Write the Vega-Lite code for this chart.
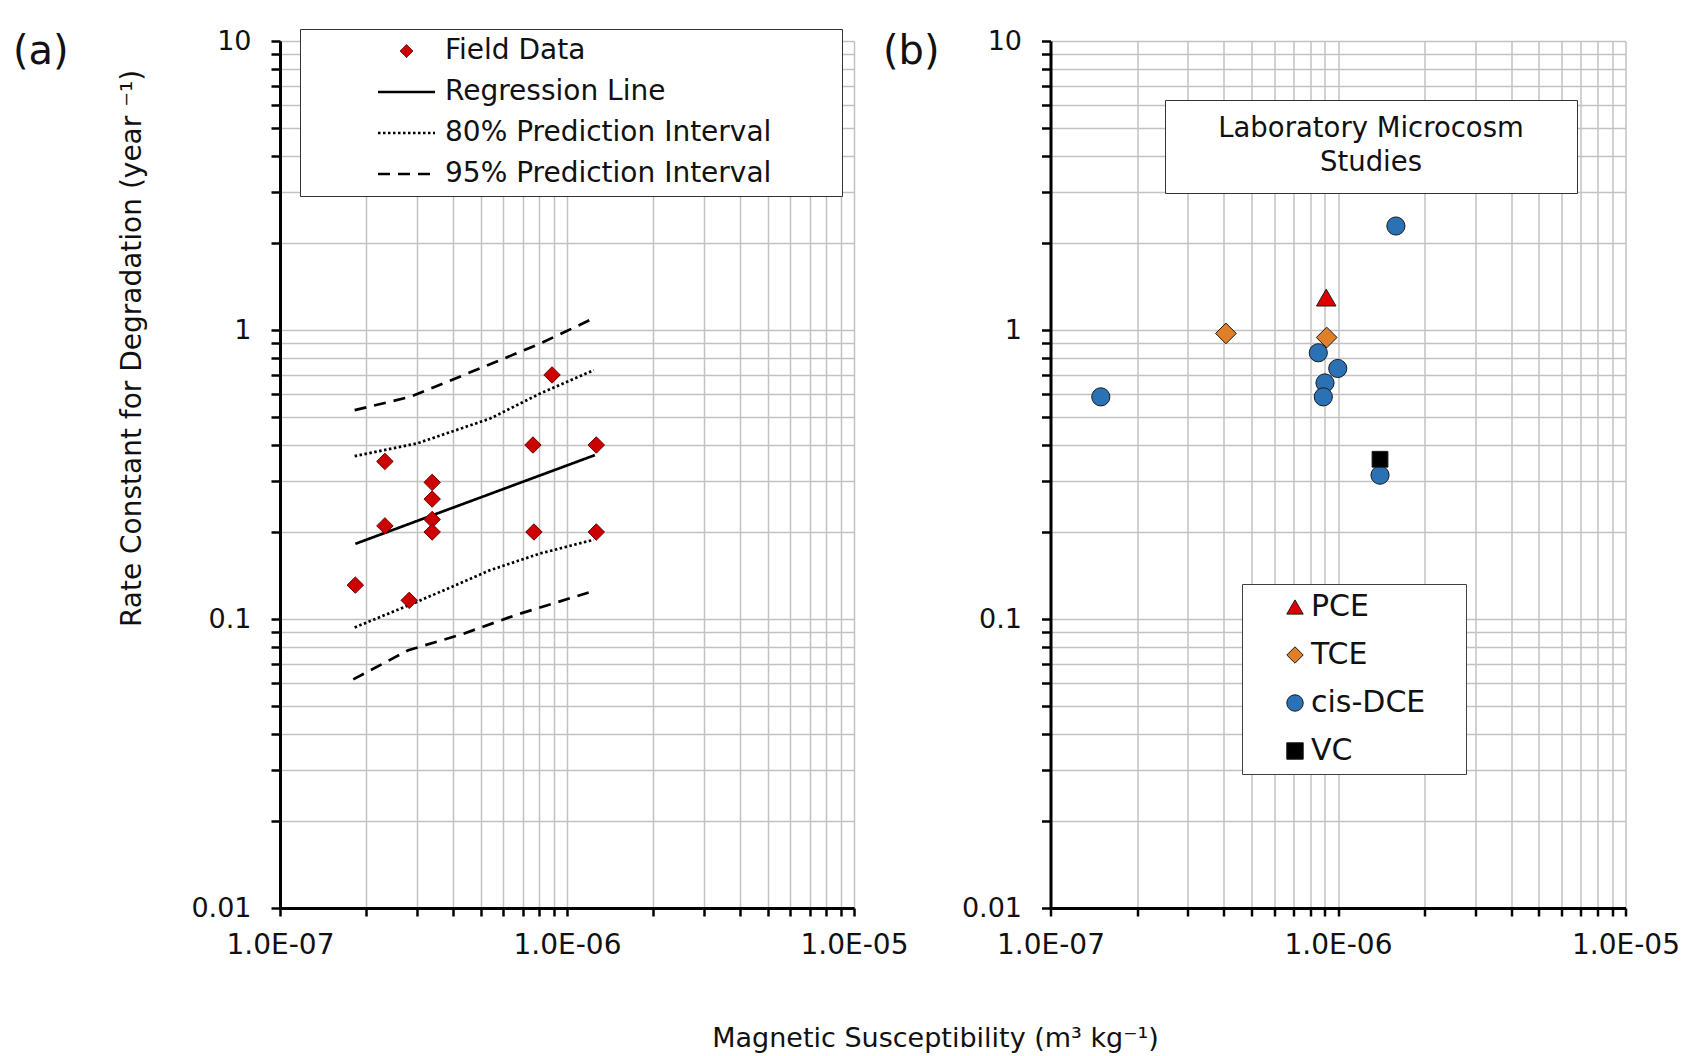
{
  "$schema": "https://vega.github.io/schema/vega-lite/v6.json",
  "autosize": {"type": "none"},
  "padding": {"left": 280, "top": 41, "right": 1405, "bottom": 1015},
  "background": "white",
  "spacing": 196.5,
  "bounds": "flush",
  "config": {
    "view": {"stroke": null},
    "font": "DejaVu Sans",
    "axis": {
      "domainColor": "#000000", "domainWidth": 3,
      "tickColor": "#000000", "tickWidth": 2.5,
      "gridColor": "#c2c2c2", "gridWidth": 1.5,
      "labelFont": "DejaVu Sans", "labelColor": "#111111",
      "labelOverlap": false, "labelFlush": false,
      "titleFont": "DejaVu Sans", "titleFontWeight": "normal", "titleColor": "#111111", "titleFontSize": 28
    },
    "axisX": {"labelFontSize": 28, "labelPadding": 15, "tickSize": 8},
    "axisY": {"labelFontSize": 27, "labelPadding": 20, "tickSize": 9},
    "title": {"font": "DejaVu Sans", "fontWeight": "normal", "fontSize": 40, "color": "#111111"}
  },
  "datasets": {
    "field": [
      {"ms": 1.83e-7, "k": 0.131},
      {"ms": 2.32e-7, "k": 0.351},
      {"ms": 2.32e-7, "k": 0.21},
      {"ms": 2.82e-7, "k": 0.116},
      {"ms": 3.39e-7, "k": 0.297},
      {"ms": 3.39e-7, "k": 0.26},
      {"ms": 3.39e-7, "k": 0.221},
      {"ms": 3.39e-7, "k": 0.2},
      {"ms": 7.61e-7, "k": 0.4},
      {"ms": 7.67e-7, "k": 0.2},
      {"ms": 8.87e-7, "k": 0.699},
      {"ms": 1.265e-6, "k": 0.4},
      {"ms": 1.265e-6, "k": 0.2}
    ],
    "lines": [
      {"series": "Regression Line", "part": "mid", "ms": 1.83e-7, "k": 0.182},
      {"series": "Regression Line", "part": "mid", "ms": 1.25e-6, "k": 0.369},
      {"series": "80% Prediction Interval", "part": "upper", "ms": 1.82e-7, "k": 0.366},
      {"series": "80% Prediction Interval", "part": "upper", "ms": 3.0e-7, "k": 0.405},
      {"series": "80% Prediction Interval", "part": "upper", "ms": 5.4e-7, "k": 0.494},
      {"series": "80% Prediction Interval", "part": "upper", "ms": 8.07e-7, "k": 0.603},
      {"series": "80% Prediction Interval", "part": "upper", "ms": 1.24e-6, "k": 0.726},
      {"series": "80% Prediction Interval", "part": "lower", "ms": 1.82e-7, "k": 0.0935},
      {"series": "80% Prediction Interval", "part": "lower", "ms": 3.0e-7, "k": 0.1146},
      {"series": "80% Prediction Interval", "part": "lower", "ms": 5.4e-7, "k": 0.1476},
      {"series": "80% Prediction Interval", "part": "lower", "ms": 8.07e-7, "k": 0.1686},
      {"series": "80% Prediction Interval", "part": "lower", "ms": 1.24e-6, "k": 0.188},
      {"series": "95% Prediction Interval", "part": "upper", "ms": 1.82e-7, "k": 0.528},
      {"series": "95% Prediction Interval", "part": "upper", "ms": 2.84e-7, "k": 0.587},
      {"series": "95% Prediction Interval", "part": "upper", "ms": 5.12e-7, "k": 0.745},
      {"series": "95% Prediction Interval", "part": "upper", "ms": 8.07e-7, "k": 0.898},
      {"series": "95% Prediction Interval", "part": "upper", "ms": 1.196e-6, "k": 1.08},
      {"series": "95% Prediction Interval", "part": "lower", "ms": 1.8e-7, "k": 0.0618},
      {"series": "95% Prediction Interval", "part": "lower", "ms": 2.8e-7, "k": 0.078},
      {"series": "95% Prediction Interval", "part": "lower", "ms": 4.31e-7, "k": 0.0886},
      {"series": "95% Prediction Interval", "part": "lower", "ms": 6.64e-7, "k": 0.1033},
      {"series": "95% Prediction Interval", "part": "lower", "ms": 1.19e-6, "k": 0.1235}
    ],
    "lab": [
      {"compound": "cis-DCE", "ms": 1.496e-7, "k": 0.587, "study": "Laboratory Microcosm Studies"},
      {"compound": "cis-DCE", "ms": 8.54e-7, "k": 0.834, "study": "Laboratory Microcosm Studies"},
      {"compound": "cis-DCE", "ms": 9.98e-7, "k": 0.736, "study": "Laboratory Microcosm Studies"},
      {"compound": "cis-DCE", "ms": 9.01e-7, "k": 0.656, "study": "Laboratory Microcosm Studies"},
      {"compound": "cis-DCE", "ms": 8.89e-7, "k": 0.587, "study": "Laboratory Microcosm Studies"},
      {"compound": "cis-DCE", "ms": 1.40e-6, "k": 0.3145, "study": "Laboratory Microcosm Studies"},
      {"compound": "cis-DCE", "ms": 1.59e-6, "k": 2.29, "study": "Laboratory Microcosm Studies"},
      {"compound": "TCE", "ms": 4.076e-7, "k": 0.973, "study": "Laboratory Microcosm Studies"},
      {"compound": "TCE", "ms": 9.135e-7, "k": 0.942, "study": "Laboratory Microcosm Studies"},
      {"compound": "PCE", "ms": 9.1e-7, "k": 1.295, "study": "Laboratory Microcosm Studies"},
      {"compound": "VC", "ms": 1.40e-6, "k": 0.357, "study": "Laboratory Microcosm Studies"}
    ]
  },
  "hconcat": [
    {
      "width": 574,
      "height": 867,
      "title": {"text": "(a)", "anchor": "start", "frame": "group", "orient": "top", "offset": 0, "dx": -267, "dy": 77, "baseline": "alphabetic"},
      "encoding": {
        "x": {
          "field": "ms", "type": "quantitative",
          "scale": {"type": "log", "domain": [1e-7, 1e-5], "nice": false},
          "axis": {
            "values": [1e-7, 2e-7, 3e-7, 4e-7, 5e-7, 6e-7, 7e-7, 8e-7, 9e-7, 1e-6, 2e-6, 3e-6, 4e-6, 5e-6, 6e-6, 7e-6, 8e-6, 9e-6, 1e-5],
            "labelExpr": "datum.value == 1e-7 ? '1.0E-07' : datum.value == 1e-6 ? '1.0E-06' : datum.value == 1e-5 ? '1.0E-05' : ''",
            "title": "Magnetic Susceptibility (m³ kg⁻¹)",
            "titleX": 655, "titleY": 138, "titleBaseline": "alphabetic", "titleAlign": "center", "titleFontSize": 27
          }
        },
        "y": {
          "field": "k", "type": "quantitative",
          "scale": {"type": "log", "domain": [0.01, 10], "nice": false},
          "axis": {
            "values": [0.01, 0.02, 0.03, 0.04, 0.05, 0.06, 0.07, 0.08, 0.09, 0.1, 0.2, 0.3, 0.4, 0.5, 0.6, 0.7, 0.8, 0.9, 1, 2, 3, 4, 5, 6, 7, 8, 9, 10],
            "labelExpr": "datum.value == 0.01 ? '0.01' : datum.value == 0.1 ? '0.1' : datum.value == 1 ? '1' : datum.value == 10 ? '10' : ''",
            "title": "Rate Constant for Degradation (year ⁻¹)",
            "titleAngle": 270, "titleX": -140, "titleY": 307, "titleBaseline": "alphabetic", "titleAlign": "center"
          }
        }
      },
      "layer": [
        {
          "data": {"name": "lines"},
          "mark": {"type": "line", "color": "black", "strokeWidth": 2.7, "strokeCap": "butt"},
          "encoding": {
            "detail": {"field": "part", "type": "nominal"},
            "order": {"field": "ms", "type": "quantitative"},
            "strokeDash": {
              "field": "series", "type": "nominal",
              "scale": {
                "domain": ["Field Data", "Regression Line", "80% Prediction Interval", "95% Prediction Interval"],
                "range": [[1, 0], [1, 0], [2.5, 2.5], [12, 8]]
              },
              "legend": {
                "orient": "none", "legendX": 20, "legendY": -12,
                "title": "\u00a0", "titleOrient": "right", "titleFontSize": 1, "titlePadding": 63,
                "padding": 8,
                "strokeColor": "#333333", "fillColor": "white",
                "labelFont": "DejaVu Sans", "labelFontSize": 28, "labelColor": "#111111", "labelLimit": 800,
                "clipHeight": 28, "rowPadding": 13,
                "symbolType": "stroke", "symbolSize": 3249, "symbolStrokeWidth": 2.5, "symbolStrokeColor": "black",
                "symbolOffset": 84.5, "labelOffset": 24.5,
                "encode": {
                  "symbols": {
                    "update": {
                      "shape": {"signal": "datum.value === 'Field Data' ? 'diamond' : 'stroke'"},
                      "size": {"signal": "datum.value === 'Field Data' ? 170 : 3249"},
                      "fill": {"signal": "datum.value === 'Field Data' ? '#cc0000' : 'transparent'"},
                      "stroke": {"signal": "datum.value === 'Field Data' ? '#6e0000' : 'black'"},
                      "strokeWidth": {"signal": "datum.value === 'Field Data' ? 1 : 2.5"}
                    }
                  }
                }
              }
            }
          }
        },
        {
          "data": {"name": "field"},
          "mark": {"type": "point", "shape": "diamond", "filled": true, "fill": "#cc0000", "stroke": "#6e0000", "strokeWidth": 1, "size": 270, "opacity": 1}
        }
      ]
    },
    {
      "width": 575,
      "height": 867,
      "title": {"text": "(b)", "anchor": "start", "frame": "group", "orient": "top", "offset": 0, "dx": -167.5, "dy": 77, "baseline": "alphabetic"},
      "data": {"name": "lab"},
      "encoding": {
        "x": {
          "field": "ms", "type": "quantitative",
          "scale": {"type": "log", "domain": [1e-7, 1e-5], "nice": false},
          "axis": {
            "values": [1e-7, 2e-7, 3e-7, 4e-7, 5e-7, 6e-7, 7e-7, 8e-7, 9e-7, 1e-6, 2e-6, 3e-6, 4e-6, 5e-6, 6e-6, 7e-6, 8e-6, 9e-6, 1e-5],
            "labelExpr": "datum.value == 1e-7 ? '1.0E-07' : datum.value == 1e-6 ? '1.0E-06' : datum.value == 1e-5 ? '1.0E-05' : ''",
            "title": null
          }
        },
        "y": {
          "field": "k", "type": "quantitative",
          "scale": {"type": "log", "domain": [0.01, 10], "nice": false},
          "axis": {
            "values": [0.01, 0.02, 0.03, 0.04, 0.05, 0.06, 0.07, 0.08, 0.09, 0.1, 0.2, 0.3, 0.4, 0.5, 0.6, 0.7, 0.8, 0.9, 1, 2, 3, 4, 5, 6, 7, 8, 9, 10],
            "labelExpr": "datum.value == 0.01 ? '0.01' : datum.value == 0.1 ? '0.1' : datum.value == 1 ? '1' : datum.value == 10 ? '10' : ''",
            "title": null
          }
        },
        "color": {
          "field": "compound", "type": "nominal",
          "scale": {"domain": ["PCE", "TCE", "cis-DCE", "VC"], "range": ["#e00000", "#e07f2a", "#2a72b5", "#000000"]},
          "legend": {
            "orient": "none", "legendX": 962, "legendY": 543,
            "title": "\u00a0", "titleOrient": "right", "titleFontSize": 1, "titlePadding": 33,
            "padding": 8,
            "strokeColor": "#404040", "fillColor": "white",
            "labelFont": "DejaVu Sans", "labelFontSize": 30, "labelColor": "#111111", "labelLimit": 800,
            "clipHeight": 30, "rowPadding": 18,
            "symbolOffset": 30, "labelOffset": 1,
            "symbolSize": 270, "symbolOpacity": 1,
            "symbolStrokeColor": "#1a1a1a", "symbolStrokeWidth": 1,
            "encode": {
              "symbols": {
                "update": {
                  "opacity": {"value": 1},
                  "fillOpacity": {"value": 1},
                  "stroke": {"value": "#1a1a1a"},
                  "strokeWidth": {"value": 1}
                }
              }
            }
          }
        },
        "shape": {
          "field": "compound", "type": "nominal",
          "scale": {"domain": ["PCE", "TCE", "cis-DCE", "VC"], "range": ["triangle-up", "diamond", "circle", "square"]}
        },
        "opacity": {
          "field": "study", "type": "nominal",
          "scale": {"range": [1]},
          "legend": {
            "orient": "none", "legendX": 885, "legendY": 59,
            "title": ["Laboratory Microcosm", "Studies"],
            "titleFont": "DejaVu Sans", "titleFontSize": 27.5, "titleFontWeight": "normal", "titleColor": "#111111",
            "titleAlign": "center", "titleAnchor": "middle", "titleLineHeight": 34, "titlePadding": 0, "titleLimit": 1000,
            "padding": 15,
            "strokeColor": "#333333", "fillColor": "white",
            "symbolType": "stroke", "symbolSize": 145924, "symbolStrokeWidth": 0,
            "symbolStrokeColor": "transparent", "symbolFillColor": "transparent",
            "clipHeight": 1, "labelExpr": "''", "labelFontSize": 1, "labelOffset": 0,
            "encode": {"symbols": {"update": {"opacity": {"value": 0}}}}
          }
        }
      },
      "layer": [
        {
          "transform": [{"filter": "datum.compound === 'cis-DCE'"}],
          "mark": {"type": "point", "filled": true, "stroke": "#1a1a1a", "strokeWidth": 1, "size": 330}
        },
        {
          "transform": [{"filter": "datum.compound === 'TCE'"}],
          "mark": {"type": "point", "filled": true, "stroke": "#1a1a1a", "strokeWidth": 1, "size": 430}
        },
        {
          "transform": [{"filter": "datum.compound === 'PCE'"}],
          "mark": {"type": "point", "filled": true, "stroke": "#1a1a1a", "strokeWidth": 1, "size": 380}
        },
        {
          "transform": [{"filter": "datum.compound === 'VC'"}],
          "mark": {"type": "point", "filled": true, "stroke": "#1a1a1a", "strokeWidth": 1, "size": 250}
        }
      ]
    }
  ]
}
